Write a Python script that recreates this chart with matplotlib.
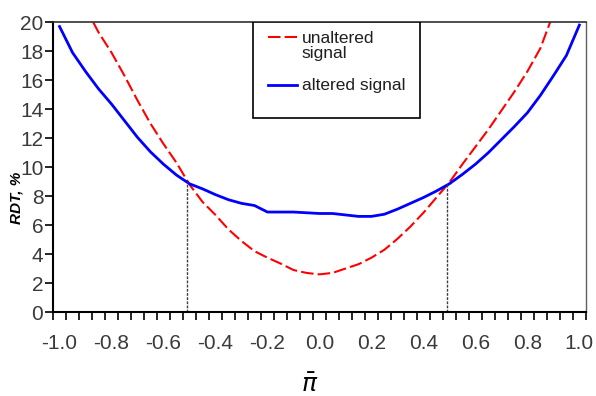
import numpy as np
import matplotlib.pyplot as plt
from matplotlib.patches import Rectangle

# x categories (step 0.05)
x_unalt = [-0.90, -0.85, -0.80, -0.75, -0.70, -0.65, -0.60, -0.55, -0.50, -0.45,
           -0.40, -0.35, -0.30, -0.25, -0.20, -0.15, -0.10, -0.05, 0.00, 0.05,
           0.10, 0.15, 0.20, 0.25, 0.30, 0.35, 0.40, 0.45, 0.50, 0.55,
           0.60, 0.65, 0.70, 0.75, 0.80, 0.85, 0.90]
# unaltered signal (red dashed)
rdt_unalt = [21.0, 19.3, 17.9, 16.3, 14.6, 13.0, 11.6, 10.3, 8.8, 7.6,
             6.7, 5.7, 4.9, 4.2, 3.75, 3.35, 2.9, 2.7, 2.6, 2.7,
             3.0, 3.3, 3.75, 4.3, 5.05, 5.9, 6.85, 7.9, 8.95, 10.2,
             11.4, 12.6, 13.9, 15.2, 16.6, 18.2, 20.6]

x_alt = [-1.00, -0.95, -0.90, -0.85, -0.80, -0.75, -0.70, -0.65, -0.60, -0.55,
         -0.50, -0.45, -0.40, -0.35, -0.30, -0.25, -0.20, -0.15, -0.10, -0.05,
         0.00, 0.05, 0.10, 0.15, 0.20, 0.25, 0.30, 0.35, 0.40, 0.45,
         0.50, 0.55, 0.60, 0.65, 0.70, 0.75, 0.80, 0.85, 0.90, 0.95, 1.00]
# altered signal (blue solid)
rdt_alt = [19.7, 17.9, 16.6, 15.4, 14.35, 13.2, 12.05, 11.05, 10.2, 9.45,
           8.85, 8.5, 8.1, 7.75, 7.5, 7.35, 6.9, 6.9, 6.9, 6.85,
           6.8, 6.8, 6.7, 6.6, 6.6, 6.75, 7.1, 7.5, 7.9, 8.35,
           8.85, 9.5, 10.2, 11.0, 11.9, 12.8, 13.75, 14.95, 16.3, 17.7, 19.8]

# crossing points of the two curves
x_cross = [-0.51, 0.49]
rdt_cross = [8.95, 8.9]

x_labels = [-1.0, -0.8, -0.6, -0.4, -0.2, 0.0, 0.2, 0.4, 0.6, 0.8, 1.0]
y_labels = [0, 2, 4, 6, 8, 10, 12, 14, 16, 18, 20]

tick_color = '#3a3a3a'

fig = plt.figure(figsize=(5.96, 3.96), dpi=100)
ax = fig.add_axes([0.089, 0.212, 0.894, 0.732])

ax.plot(x_unalt, rdt_unalt, color='red', lw=1.5, dashes=(6, 2))
ax.plot(x_alt, rdt_alt, color='blue', lw=2)
for xc, yc in zip(x_cross, rdt_cross):
    ax.plot([xc, xc], [0, yc], color='#404040', lw=1, ls=(0, (2, 1)))

# category-style axis: half a step of padding, ticks between categories
ax.set_xlim(-1.025, 1.025)
ax.set_ylim(0, 20)
ax.set_xticks(x_labels)
ax.set_xticklabels([f'{v:.1f}' for v in x_labels])
ax.set_xticks(np.arange(-1.025, 1.03, 0.05), minor=True)
ax.set_yticks(y_labels)

ax.tick_params(axis='x', which='major', length=0, labelcolor=tick_color,
               labelsize=15, pad=16)
ax.tick_params(axis='x', which='minor', direction='out', length=5.5, width=1.2,
               colors='black')
ax.tick_params(axis='y', direction='out', length=5.5, width=1.2,
               colors='black', labelcolor=tick_color, labelsize=15, pad=1.5)
for lab in ax.get_xticklabels() + ax.get_yticklabels():
    lab.set_fontfamily('Liberation Sans')

ax.spines['left'].set_linewidth(1.5)
ax.spines['bottom'].set_linewidth(1.5)
ax.spines['top'].set_linewidth(1.2)
ax.spines['top'].set_color('#303030')
ax.spines['right'].set_linewidth(1)
ax.spines['right'].set_color('#606060')

fig.text(0.027, 0.50, 'RDT, %', rotation=90, ha='center', va='center',
         fontsize=11, fontweight='bold', fontstyle='italic',
         family='Liberation Sans')
fig.text(0.52, 0.028, r'$\boldsymbol{\bar{\pi}}$', ha='center', va='center',
         fontsize=18)

# legend box
ax.add_patch(Rectangle((0.375, 0.669), 0.314, 0.331, transform=ax.transAxes,
                       facecolor='white', edgecolor='black', lw=1.2, zorder=5))
ax.plot([0.403, 0.458], [0.948, 0.948], transform=ax.transAxes, color='red',
        lw=1.5, dashes=(6, 2), zorder=6)
ax.plot([0.403, 0.458], [0.783, 0.783], transform=ax.transAxes, color='blue',
        lw=2, zorder=6)
ax.text(0.467, 0.917, 'unaltered\nsignal', transform=ax.transAxes, ha='left',
        va='center', fontsize=12.5, linespacing=1.0, color='#202020',
        family='Liberation Sans', zorder=6)
ax.text(0.467, 0.783, 'altered signal', transform=ax.transAxes, ha='left',
        va='center', fontsize=12.5, color='#202020',
        family='Liberation Sans', zorder=6)

fig.savefig('out.png', dpi=100)
